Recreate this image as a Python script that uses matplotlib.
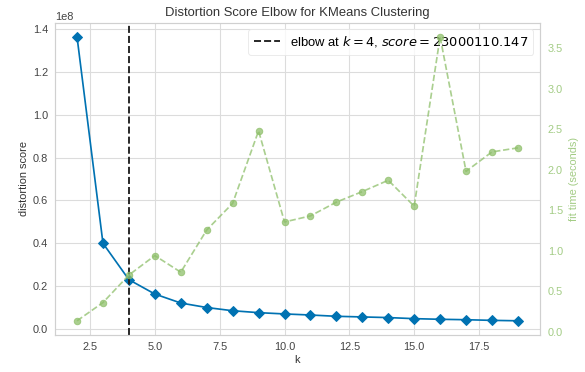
import matplotlib
matplotlib.use("Agg")
import matplotlib.pyplot as plt
import numpy as np

plt.rcParams['font.family'] = ['Liberation Sans', 'DejaVu Sans']

# number of clusters tried
k_values = list(range(2, 20))
# distortion score (x 1e8)
scores = [1.364e8, 0.400e8, 0.2300011e8, 0.163e8, 0.121e8, 0.100e8, 0.085e8, 0.076e8,
          0.070e8, 0.065e8, 0.059e8, 0.056e8, 0.053e8, 0.048e8, 0.045e8, 0.043e8,
          0.040e8, 0.038e8]
# fit time in seconds
fit_times = [0.135, 0.36, 0.70, 0.94, 0.735, 1.256, 1.585, 2.48, 1.355, 1.43, 1.60,
             1.73, 1.87, 1.55, 3.64, 1.98, 2.22, 2.27]
elbow_k = 4
elbow_score = 23000110.147

blue = '#0072B2'
green = '#a3cc85'
grey = '#444444'

fig = plt.figure(figsize=(585/72, 372/72), dpi=72)
ax = fig.add_axes([0.094, 0.0995, 0.829, 0.8395])
ax.set_facecolor('white')
for s in ax.spines.values():
    s.set_color('#d0d0d0')
    s.set_linewidth(1.2)
ax.grid(True, color='#dcdcdc', linewidth=1.1)
ax.set_axisbelow(True)

ax.plot(k_values, scores, marker='D', color=blue, lw=1.7, ms=7)
ax.axvline(elbow_k, c='#222222', ls='--', lw=1.9,
           label='elbow at $k={}$, $score={:0.3f}$'.format(elbow_k, elbow_score))

ax.set_title('Distortion Score Elbow for KMeans Clustering', fontsize=13, color='#333333', pad=7)
ax.set_xlabel('k', fontsize=11, color='#333333', labelpad=3)
ax.set_ylabel('distortion score', fontsize=11, color='#333333')
ax.tick_params(colors=grey, labelsize=11, length=0, pad=7)
ax.yaxis.get_offset_text().set_color(grey)
ax.yaxis.get_offset_text().set_fontsize(11)

leg = ax.legend(loc='upper right', fontsize=13, frameon=True, framealpha=0.8,
                edgecolor='#e6e6e6', fancybox=True)

# fit time on a second y axis, drawn on top like the original
ax2 = ax.twinx()
ax2.plot(k_values, fit_times, c='#8ebf6a', marker='o', ls='--', lw=1.7, ms=6.5, alpha=0.75)
ax2.set_ylabel('fit time (seconds)', color=green, fontsize=11, labelpad=6)
ax2.tick_params('y', colors=green, labelsize=11, length=0, pad=8)
ax2.grid(False)
for s in ax2.spines.values():
    s.set_visible(False)

fig.savefig('out.png', dpi=72)
